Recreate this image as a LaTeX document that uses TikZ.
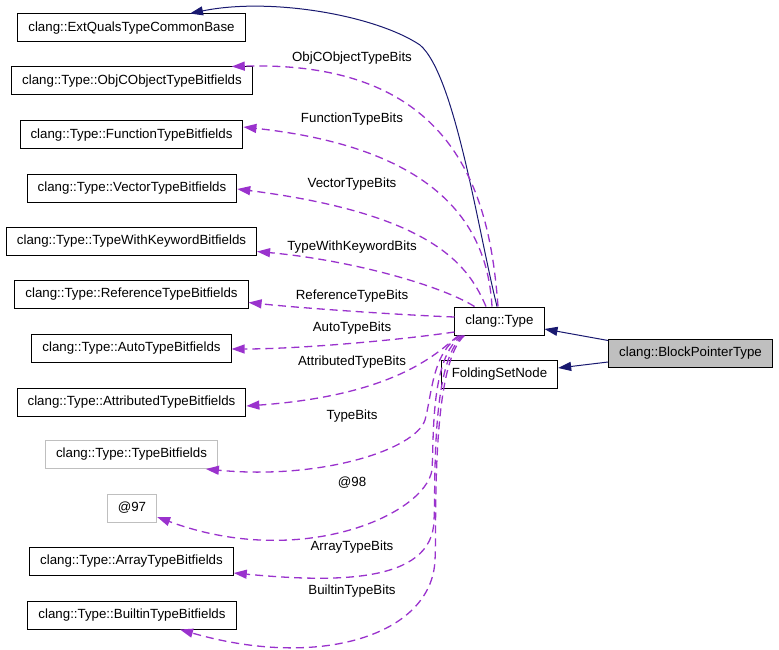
\documentclass[tikz,border=0pt]{standalone}
\usepackage{fontspec}
\setmainfont{Liberation Sans}
\usetikzlibrary{arrows.meta,calc}
\definecolor{navyline}{HTML}{191970}
\definecolor{orchid}{HTML}{9A32CD}
\definecolor{boxgray}{HTML}{BFBFBF}

\begin{document}
\begin{tikzpicture}
	[
	 x = 1pt, y = -1pt,
	 every node/.style = {shape=rectangle,
		                  draw,
		                  font=\fontsize{13.3}{15}\selectfont,
		                  minimum height = 28pt,
		                  inner xsep = 10.5pt,
		                  inner ysep = 0pt,
		                  line width = 1pt
	                     },
	 GR/.style = {draw = boxgray},
	 HL/.style = {fill = boxgray},
	 IN/.style = {draw = navyline, line width = 1pt,
	 	-{Triangle[length=13pt,width=9pt]}},
	 US/.style = {draw = orchid, line width = 1.3pt,
	 	dash pattern = on 8pt off 5pt,
	 	-{Triangle[length=13pt,width=9pt]}}
	]
	
	\useasboundingbox (0,0) rectangle (779,650);
	
	\newcommand{\CTB}{clang::Type::}
	
	% left column
	\node (ext)  at (131.5,28)    {clang::ExtQualsTypeCommonBase};
	\node (objc) at (132,81)      {\CTB ObjCObjectTypeBitfields};
	\node (func) at (131.5,135)   {\CTB FunctionTypeBitfields};
	\node (vect) at (132,188)     {\CTB VectorTypeBitfields};
	\node (kw)   at (131.5,241.5) {\CTB TypeWithKeywordBitfields};
	\node (ref)  at (131.5,294.5) {\CTB ReferenceTypeBitfields};
	\node (aut)  at (131.5,348)   {\CTB AutoTypeBitfields};
	\node (attr) at (131.5,402)   {\CTB AttributedTypeBitfields};
	\node [GR] (tbf) at (131.5,454.5) {\CTB TypeBitfields};
	\node [GR] (a97) at (132,508)     {@97};
	\node (arr)  at (131.5,561)   {\CTB ArrayTypeBitfields};
	\node (bti)  at (132,615)     {\CTB BuiltinTypeBitfields};
	
	% right side
	\node (type) at (499.5,321)   {clang::Type};
	\node (fsn)  at (499.5,374.5) {FoldingSetNode};
	\node [HL] (block) at (690.5,353) {clang::BlockPointerType};
	
	% inheritance
	\draw [IN] ([yshift=-2pt]block.north west) -- ([yshift=-8pt]type.east);
	\draw [IN] ([yshift=-9pt]block.west) -- ([yshift=6.5pt]fsn.east);
	\draw [IN] ([xshift=-2.5pt]type.north) .. controls (478,230) and (455,75) .. (420,45)
	           .. controls (375,15) and (270,-3) .. ([xshift=58.5pt]ext.north);
	
	% members
	\draw [US] ([xshift=-1.5pt]type.north) .. controls (490,200) and (460,60) .. ([xshift=-21pt]objc.north east);
	\draw [US] ([xshift=-7.5pt]type.north) .. controls (488,240) and (455,150) .. ([yshift=8pt]func.east);
	\draw [US] ([xshift=-13.5pt]type.north) .. controls (470,270) and (440,215) .. ([yshift=-1pt]vect.east);
	\draw [US] ([xshift=-25pt]type.north) .. controls (440,285) and (350,260) .. ([yshift=-10pt]kw.east);
	\draw [US] ([yshift=4pt]type.west) .. controls (400,315) and (300,308) .. ([yshift=-8pt]ref.east);
	\draw [US] ([yshift=-11pt]type.west) .. controls (400,340) and (300,349) .. ([yshift=-1pt]aut.east);
	\draw [US] ([xshift=4pt]type.south west) .. controls (440,350) and (400,395) .. ([yshift=-4pt]attr.east);
	\draw [US] ([xshift=6pt]type.south west) .. controls (432,352) and (432,395) .. (425,420)
	           .. controls (415,450) and (320,480) .. ([xshift=-12pt]tbf.south east);
	\draw [US] ([xshift=8pt]type.south west) .. controls (430,355) and (434,440) .. (432,470)
	           .. controls (425,515) and (300,570) .. ([yshift=-9pt]a97.east);
	\draw [US] ([xshift=9pt]type.south west) .. controls (430,360) and (436,490) .. (434,520)
	           .. controls (433,585) and (330,582) .. ([yshift=-12pt]arr.east);
	\draw [US] ([xshift=10pt]type.south west) .. controls (430,365) and (437,530) .. (435,560)
	           .. controls (432,635) and (320,670) .. ([xshift=48pt]bti.south);
	
	\begin{scope}[nodes = {draw = none, minimum height = 0pt, inner sep = 0pt}]
	  \node (lobjc) at (352,58)  {ObjCObjectTypeBits};
	  \node (lfunc) at (352,119) {FunctionTypeBits};
	  \node (lvect) at (352,184) {VectorTypeBits};
	  \node (lkw)   at (352,247) {TypeWithKeywordBits};
	  \node (lref)  at (352,296) {ReferenceTypeBits};
	  \node (laut)  at (352,328) {AutoTypeBits};
	  \node (lattr) at (352,362) {AttributedTypeBits};
	  \node (ltb)   at (352,416) {TypeBits};
	  \node (l98)   at (352,483) {@98};
	  \node (larr)  at (352,547) {ArrayTypeBits};
	  \node (lbti)  at (352,591) {BuiltinTypeBits};
	\end{scope}
\end{tikzpicture}
\end{document}
